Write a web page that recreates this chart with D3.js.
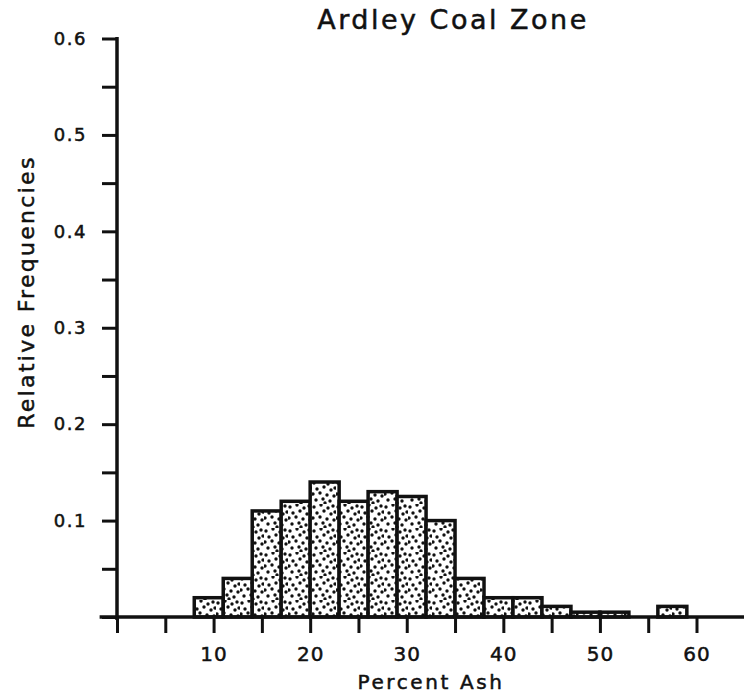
<!DOCTYPE html>
<html>
<head>
<meta charset="utf-8">
<script src="https://cdn.jsdelivr.net/npm/d3@7"></script>
<style>
  html, body { margin: 0; padding: 0; background: #fff; }
  svg { display: block; }
  text { font-family: "DejaVu Sans", sans-serif; fill: #111; stroke: #111; stroke-width: 0.5px; }
</style>
</head>
<body>
<svg id="chart" width="744" height="700"></svg>
<script>
// ---- data ----
const title = "Ardley Coal Zone";
const xLabel = "Percent Ash";
const yLabel = "Relative Frequencies";
const binLow  = [8, 11, 14, 17, 20, 23, 26, 29, 32, 35, 38, 41, 44, 47, 50, 53, 56];
const binHigh = [11, 14, 17, 20, 23, 26, 29, 32, 35, 38, 41, 44, 47, 50, 53, 56, 59];
const freq    = [0.02, 0.04, 0.11, 0.12, 0.14, 0.12, 0.13, 0.125, 0.10, 0.04, 0.02, 0.02, 0.011, 0.005, 0.005, 0, 0.011];
const xTickValues = [0, 5, 10, 15, 20, 25, 30, 35, 40, 45, 50, 55, 60];
const xTickLabels = ["", "", "10", "", "20", "", "30", "", "40", "", "50", "", "60"];
const yTickValues = [0, 0.05, 0.1, 0.15, 0.2, 0.25, 0.3, 0.35, 0.4, 0.45, 0.5, 0.55, 0.6];
const yTickLabels = ["", "", "0.1", "", "0.2", "", "0.3", "", "0.4", "", "0.5", "", "0.6"];

// ---- layout ----
const svg = d3.select("#chart");
const x = d3.scaleLinear().domain([0, 60]).range([117, 696.5]);
const y = d3.scaleLinear().domain([0, 0.6]).range([617, 38.5]);

// stipple pattern
const defs = svg.append("defs");
const pat = defs.append("pattern")
  .attr("id", "stipple").attr("patternUnits", "userSpaceOnUse")
  .attr("width", 24).attr("height", 24);
pat.append("rect").attr("width", 24).attr("height", 24).attr("fill", "#fff");
const dots = [[2,3],[9,1],[16,4],[21,2],[5,9],[12,7],[19,10],[1,14],[8,13],[15,15],[22,16],[4,20],[11,19],[18,21],[13,23],[23,8]];
pat.selectAll("circle").data(dots).join("circle")
  .attr("cx", d => d[0]).attr("cy", d => d[1]).attr("r", 1.7).attr("fill", "#111");

const bins = binLow.map((lo, i) => ({lo, hi: binHigh[i], f: freq[i]})).filter(d => d.f > 0);

svg.append("g").selectAll("rect").data(bins).join("rect")
  .attr("x", d => x(d.lo))
  .attr("y", d => y(d.f))
  .attr("width", d => x(d.hi) - x(d.lo))
  .attr("height", d => y(0) - y(d.f))
  .attr("fill", "url(#stipple)")
  .attr("stroke", "#111")
  .attr("stroke-width", 3.5);

// x axis
const xAxis = d3.axisBottom(x)
  .tickValues(xTickValues)
  .tickSize(16).tickSizeOuter(0)
  .tickPadding(14)
  .tickFormat((d, i) => xTickLabels[i]);
const gx = svg.append("g").attr("transform", `translate(0,${y(0)})`).call(xAxis);
gx.select(".domain").remove();
gx.selectAll(".tick line").attr("stroke", "#111").attr("stroke-width", 3);
gx.selectAll(".tick text").attr("font-size", 20).attr("fill", "#111").attr("letter-spacing", 1);
svg.append("line")
  .attr("x1", x(-1.8)).attr("x2", 744).attr("y1", y(0)).attr("y2", y(0))
  .attr("stroke", "#111").attr("stroke-width", 3.5);

// y axis
const yAxis = d3.axisLeft(y)
  .tickValues(yTickValues)
  .tickSize(15).tickSizeOuter(0)
  .tickPadding(15)
  .tickFormat((d, i) => yTickLabels[i]);
const gy = svg.append("g").attr("transform", `translate(${x(0)},0)`).call(yAxis);
gy.select(".domain").remove();
gy.selectAll(".tick line").attr("stroke", "#111").attr("stroke-width", 3);
gy.selectAll(".tick text").attr("font-size", 18).attr("fill", "#111").attr("letter-spacing", 1.5);
svg.append("line")
  .attr("x1", x(0)).attr("x2", x(0)).attr("y1", y(0.6) - 1.5).attr("y2", y(0) + 3)
  .attr("stroke", "#111").attr("stroke-width", 3.5);

// titles
svg.append("text").attr("x", 453).attr("y", 29).attr("text-anchor", "middle")
  .attr("font-size", 27).attr("letter-spacing", 2.5).text(title);
svg.append("text").attr("x", 431).attr("y", 689).attr("text-anchor", "middle")
  .attr("font-size", 20).attr("letter-spacing", 2.6).text(xLabel);
svg.append("text").attr("transform", "translate(34,292) rotate(-90)").attr("text-anchor", "middle")
  .attr("font-size", 22).attr("letter-spacing", 2.3).text(yLabel);
</script>
</body>
</html>
